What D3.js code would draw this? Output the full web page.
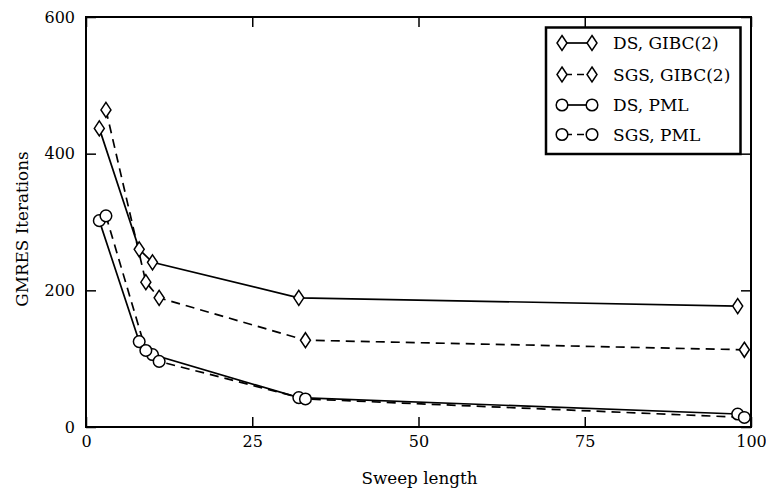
<!DOCTYPE html>
<html>
<head>
<meta charset="utf-8">
<script src="https://cdn.jsdelivr.net/npm/d3@7"></script>
<style>
  html, body { margin: 0; padding: 0; background: #fff; }
  svg { display: block; }
  text { font-family: "DejaVu Serif", serif; fill: #000; }
</style>
</head>
<body>
<svg id="chart" width="766" height="492"></svg>
<script>
// ---- data ----
const xDS = [2, 8, 10, 32, 98];
const xSGS = [3, 9, 11, 33, 99];
const dsGibc = [437, 260, 241, 189, 177];
const sgsGibc = [464, 212, 189, 127, 113];
const dsPml = [302, 125, 106, 43, 19];
const sgsPml = [309, 112, 96, 41, 14];
const seriesNames = ["DS, GIBC(2)", "SGS, GIBC(2)", "DS, PML", "SGS, PML"];
const xTicks = [0, 25, 50, 75, 100];
const yTicks = [0, 200, 400, 600];
const xLabel = "Sweep length";
const yLabel = "GMRES Iterations";

const series = [
  { name: seriesNames[0], xs: xDS, ys: dsGibc, marker: "diamond", dashed: false },
  { name: seriesNames[1], xs: xSGS, ys: sgsGibc, marker: "diamond", dashed: true },
  { name: seriesNames[2], xs: xDS, ys: dsPml, marker: "circle", dashed: false },
  { name: seriesNames[3], xs: xSGS, ys: sgsPml, marker: "circle", dashed: true }
];

const svg = d3.select("#chart");
const L = 86, R = 751, T = 17, B = 427;
const x = d3.scaleLinear().domain([0, 100]).range([L, R]);
const y = d3.scaleLinear().domain([0, 600]).range([B, T]);

// axes (ticks inward)
const gx = svg.append("g").attr("transform", `translate(0,${B})`)
  .call(d3.axisBottom(x).tickValues(xTicks).tickSize(-10).tickPadding(9));
const gy = svg.append("g").attr("transform", `translate(${L},0)`)
  .call(d3.axisLeft(y).tickValues(yTicks).tickSize(-10).tickPadding(11));
const gt = svg.append("g").attr("transform", `translate(0,${T})`)
  .call(d3.axisTop(x).tickValues(xTicks).tickSize(-10).tickFormat(""));
const gr = svg.append("g").attr("transform", `translate(${R},0)`)
  .call(d3.axisRight(y).tickValues(yTicks).tickSize(-10).tickFormat(""));
[gx, gy, gt, gr].forEach(g => {
  g.select(".domain").remove();
  g.selectAll(".tick line").attr("stroke", "#000").attr("stroke-width", 1.5);
  g.selectAll(".tick text").style("font-family", "DejaVu Serif, serif").style("font-size", "16px").attr("fill", "#000");
});

// frame
svg.append("rect").attr("x", L).attr("y", T).attr("width", R - L).attr("height", B - T)
  .attr("fill", "none").attr("stroke", "#000").attr("stroke-width", 2);

// axis labels
svg.append("text").attr("x", (L + R) / 2 + 1).attr("y", 484)
  .attr("text-anchor", "middle").style("font-size", "16.8px").text(xLabel);
svg.append("text").attr("transform", "translate(28,229) rotate(-90)")
  .attr("text-anchor", "middle").style("font-size", "16.8px").text(yLabel);

// markers
function drawMarker(g, type, cx, cy) {
  if (type === "diamond") {
    g.append("path")
      .attr("d", `M${cx},${cy - 7.5}L${cx + 5},${cy}L${cx},${cy + 7.5}L${cx - 5},${cy}Z`)
      .attr("fill", "#fff").attr("stroke", "#000").attr("stroke-width", 1.5);
  } else {
    g.append("circle").attr("cx", cx).attr("cy", cy).attr("r", 5.8)
      .attr("fill", "#fff").attr("stroke", "#000").attr("stroke-width", 1.5);
  }
}

const line = d3.line().x(d => x(d[0])).y(d => y(d[1]));
series.forEach(s => {
  const pts = s.xs.map((v, i) => [v, s.ys[i]]);
  svg.append("path").datum(pts).attr("d", line)
    .attr("fill", "none").attr("stroke", "#000").attr("stroke-width", 1.7)
    .attr("stroke-dasharray", s.dashed ? "9,6" : null);
});
series.forEach(s => {
  const g = svg.append("g");
  s.xs.forEach((v, i) => drawMarker(g, s.marker, x(v), y(s.ys[i])));
});

// legend
const lg = svg.append("g");
lg.append("rect").attr("x", 546).attr("y", 27.5).attr("width", 194.5).attr("height", 126.5)
  .attr("fill", "#fff").attr("stroke", "#000").attr("stroke-width", 2.5);
const rowY = [43, 74.5, 105, 134.5];
series.forEach((s, i) => {
  const yy = rowY[i];
  lg.append("line").attr("x1", 562).attr("x2", 592).attr("y1", yy).attr("y2", yy)
    .attr("stroke", "#000").attr("stroke-width", 1.7)
    .attr("stroke-dasharray", s.dashed ? "7,5" : null)
    .attr("stroke-dashoffset", s.dashed ? -3 : 0);
  drawMarker(lg, s.marker, 562, yy);
  drawMarker(lg, s.marker, 592, yy);
  lg.append("text").attr("x", 613).attr("y", yy + 6).style("font-size", "17px").text(s.name);
});
</script>
</body>
</html>
